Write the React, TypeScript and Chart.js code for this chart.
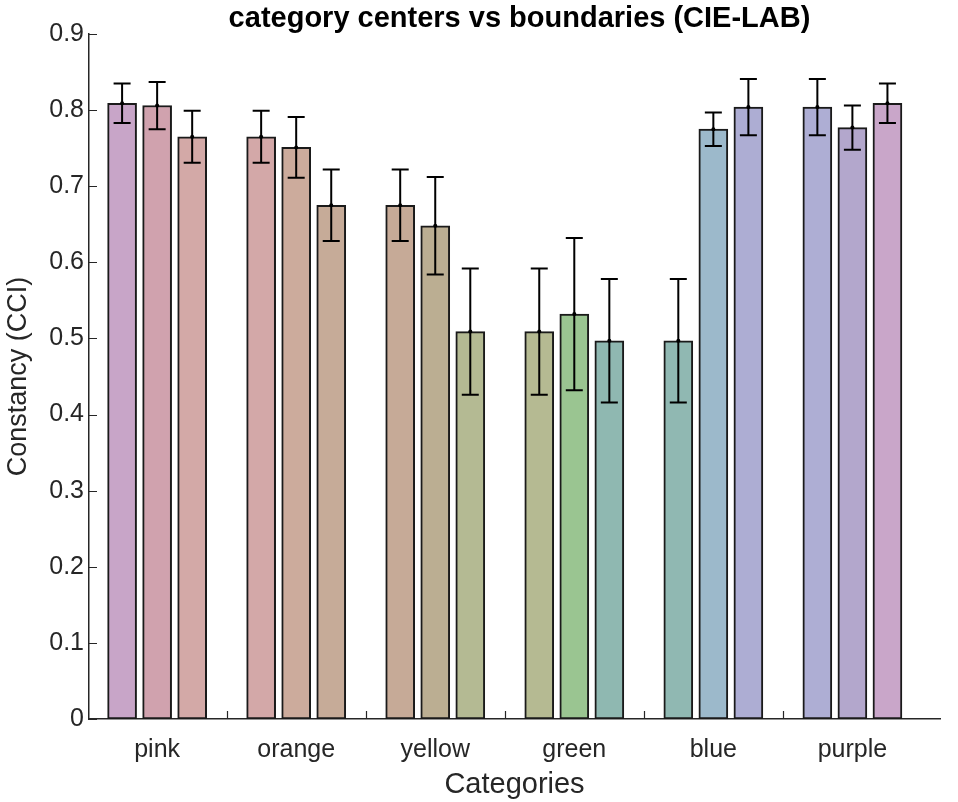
import React, { useEffect, useRef } from 'react';
import { Chart, registerables } from 'chart.js';

Chart.register(...registerables);

// ---------- data ----------
const categories = ['pink', 'orange', 'yellow', 'green', 'blue', 'purple'];
const yTickValues = [0, 0.1, 0.2, 0.3, 0.4, 0.5, 0.6, 0.7, 0.8, 0.9];
const boundaryTicks = [0.5, 1.5, 2.5, 3.5, 4.5];

const series1 = [0.809, 0.765, 0.675, 0.509, 0.497, 0.804];
const series2 = [0.806, 0.751, 0.648, 0.532, 0.775, 0.777];
const series3 = [0.765, 0.675, 0.509, 0.497, 0.804, 0.809];

const err1 = [0.026, 0.034, 0.047, 0.083, 0.081, 0.037];
const err2 = [0.031, 0.040, 0.064, 0.100, 0.022, 0.029];
const err3 = [0.034, 0.047, 0.083, 0.081, 0.037, 0.026];

const colors1 = ['#c8a5c8', '#d3a8a8', '#c6aa97', '#b5ba92', '#90b8b2', '#aeaed4'];
const colors2 = ['#d0a2ae', '#ccab9c', '#bbae92', '#9ac591', '#9cb9cb', '#b3a7cc'];
const colors3 = ['#d3a9a7', '#c6ab98', '#b4ba93', '#8fb8b1', '#adadd3', '#c9a6c9'];

const titleText = 'category centers vs boundaries (CIE-LAB)';
const xTitle = 'Categories';
const yTitle = 'Constancy (CCI)';

// ---------- styling ----------
const FONT = '"Liberation Sans", Arial, Helvetica, sans-serif';
const AXIS = '#262626';
const OFFSETS = [-0.252, 0, 0.252];

const seriesList = [series1, series2, series3];
const errList = [err1, err2, err3];
const colorList = [colors1, colors2, colors3];

const overlayPlugin = {
  id: 'overlay',
  afterDatasetsDraw(chart: any) {
    const ctx = chart.ctx;
    const y = chart.scales.y;
    ctx.save();
    ctx.strokeStyle = '#000';
    ctx.fillStyle = '#000';
    ctx.lineWidth = 2;
    chart.data.datasets.forEach((ds: any, d: number) => {
      const meta = chart.getDatasetMeta(d);
      const errs = errList[d];
      meta.data.forEach((el: any, i: number) => {
        const v = ds.data[i].y;
        const e = errs[i];
        const x = el.x;
        const yt = y.getPixelForValue(v + e);
        const yb = y.getPixelForValue(v - e);
        const yc = y.getPixelForValue(v);
        ctx.beginPath();
        ctx.moveTo(x, yt);
        ctx.lineTo(x, yb);
        ctx.moveTo(x - 8.5, yt);
        ctx.lineTo(x + 8.5, yt);
        ctx.moveTo(x - 8.5, yb);
        ctx.lineTo(x + 8.5, yb);
        ctx.stroke();
        ctx.beginPath();
        ctx.arc(x, yc, 2, 0, Math.PI * 2);
        ctx.fill();
      });
    });
    ctx.restore();
  },
  afterDraw(chart: any) {
    const ctx = chart.ctx;
    const { left, right, bottom } = chart.chartArea;
    const xs = chart.scales.x;
    const ys = chart.scales.y;
    ctx.save();
    ctx.strokeStyle = AXIS;
    ctx.lineWidth = 1.2;
    ctx.beginPath();
    yTickValues.forEach((v) => {
      const py = Math.round(ys.getPixelForValue(v)) + 0.5;
      ctx.moveTo(left, py);
      ctx.lineTo(left + 8, py);
    });
    boundaryTicks.forEach((v) => {
      const px = Math.round(xs.getPixelForValue(v)) + 0.5;
      ctx.moveTo(px, bottom);
      ctx.lineTo(px, bottom - 8);
    });
    ctx.stroke();
    ctx.fillStyle = '#000';
    ctx.font = `bold 29px ${FONT}`;
    ctx.textAlign = 'center';
    ctx.textBaseline = 'middle';
    ctx.fillText(titleText, (left + right) / 2 + 5, 19);
    ctx.restore();
  },
};

export default function App() {
  const ref = useRef<HTMLCanvasElement>(null);
  useEffect(() => {
    if (!ref.current) return;
    const datasets = seriesList.map((s, d) => ({
      data: s.map((v, i) => ({ x: i + OFFSETS[d], y: v })),
      backgroundColor: colorList[d],
      borderColor: '#1a1a1a',
      borderWidth: 2,
      borderSkipped: false,
      barThickness: 29,
      grouped: false,
    }));
    const chart = new Chart(ref.current, {
      type: 'bar',
      data: { datasets } as any,
      plugins: [overlayPlugin],
      options: {
        animation: false,
        responsive: false,
        devicePixelRatio: 1,
        layout: { padding: { top: 34, right: 18, left: 0, bottom: 0 } },
        plugins: { legend: { display: false }, tooltip: { enabled: false }, title: { display: false } },
        scales: {
          x: {
            type: 'linear',
            offset: false,
            min: -0.49,
            max: 5.63,
            grid: { display: false, drawTicks: false, offset: false },
            border: { display: true, color: AXIS, width: 1.5 },
            afterBuildTicks: (scale: any) => {
              scale.ticks = categories.map((_, i) => ({ value: i }));
            },
            afterFit: (scale: any) => {
              scale.height = 83;
            },
            ticks: {
              autoSkip: false,
              maxRotation: 0,
              padding: 16,
              color: AXIS,
              font: { family: FONT, size: 25 },
              callback: (v: any) => categories[Math.round(Number(v))] ?? '',
            },
            title: {
              display: true,
              text: xTitle,
              color: AXIS,
              font: { family: FONT, size: 29 },
              padding: { top: 0, bottom: 0 },
            },
          },
          y: {
            type: 'linear',
            min: 0,
            max: 0.9,
            grid: { display: false, drawTicks: false },
            border: { display: true, color: AXIS, width: 1.5 },
            afterBuildTicks: (scale: any) => {
              scale.ticks = yTickValues.map((v) => ({ value: v }));
            },
            afterFit: (scale: any) => {
              scale.width = 89;
            },
            ticks: {
              padding: 5,
              color: AXIS,
              font: { family: FONT, size: 25 },
              callback: (v: any) => (Number(v) === 0 ? '0' : Number(v).toFixed(1)),
            },
            title: {
              display: true,
              text: yTitle,
              color: AXIS,
              font: { family: FONT, size: 27 },
              padding: { top: 2, bottom: 0 },
            },
          },
        },
      } as any,
    });
    return () => chart.destroy();
  }, []);
  return (
    <div style={{ position: 'fixed', left: 0, top: 0, width: 958, height: 802, background: '#fff' }}>
      <canvas ref={ref} width={958} height={802} style={{ width: 958, height: 802, display: 'block' }} />
    </div>
  );
}
